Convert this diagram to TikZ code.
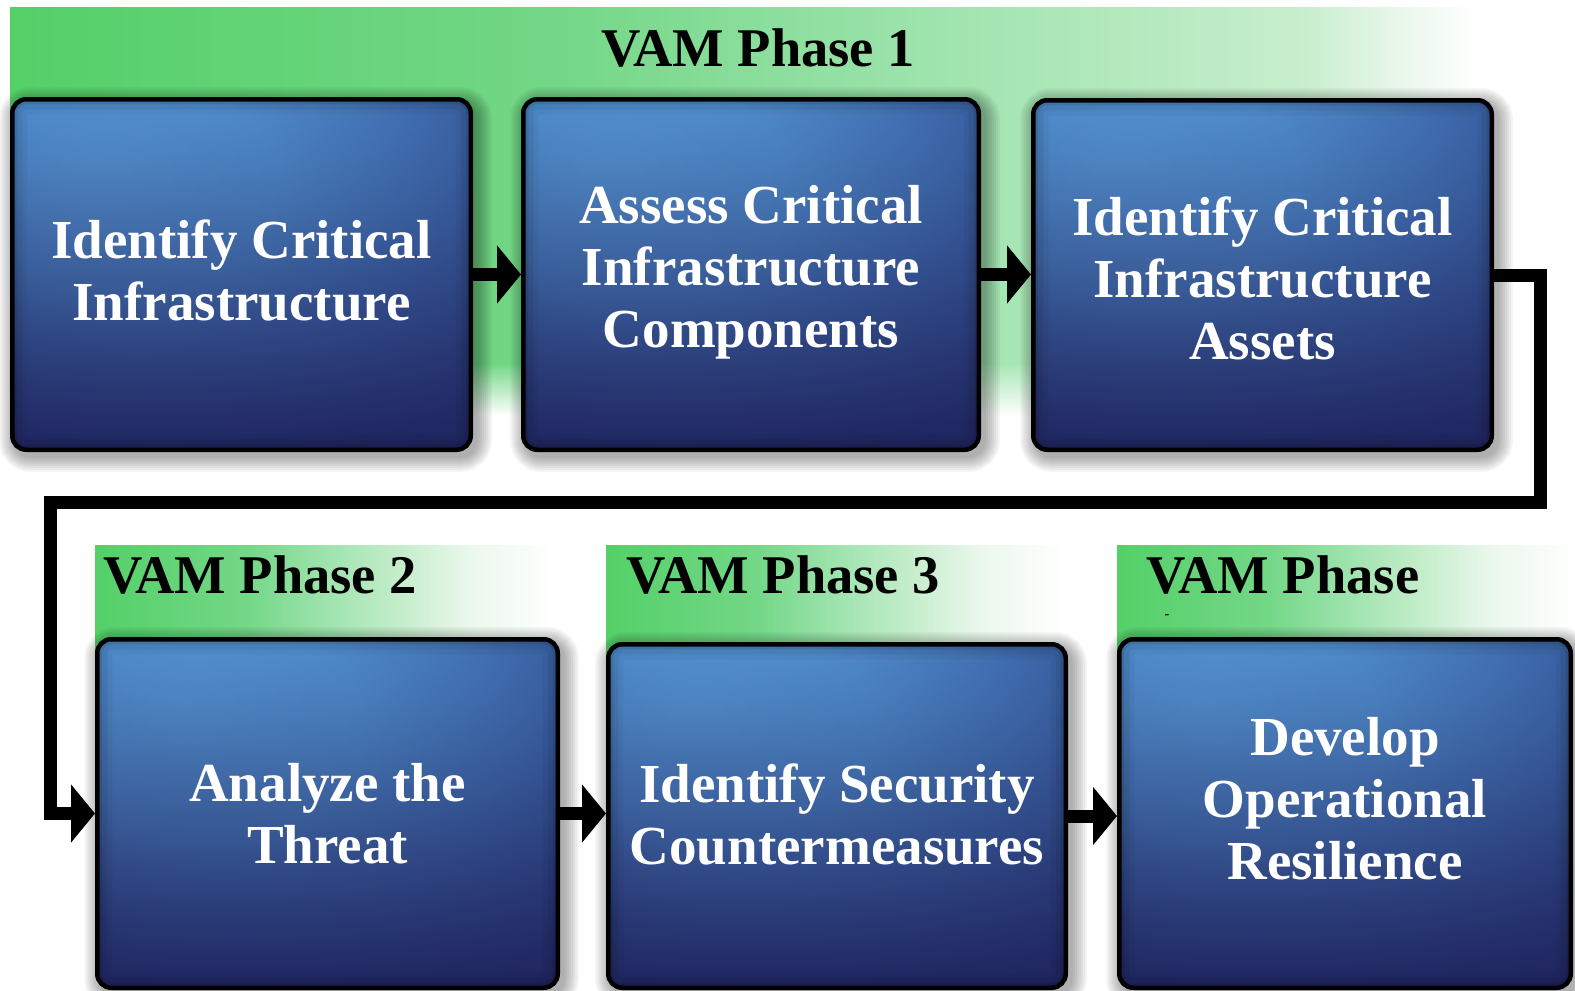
\documentclass[tikz,border=0pt]{standalone}
\usepackage{fontspec}
\setmainfont{Liberation Serif}
\usetikzlibrary{arrows.meta,fadings}

\definecolor{vg}{RGB}{84,208,104}
\definecolor{vga}{RGB}{115,215,135}
\definecolor{vgb}{RGB}{160,228,175}
\definecolor{vgc}{RGB}{200,238,205}
\definecolor{vgd}{RGB}{235,248,237}
\definecolor{bxa}{RGB}{86,150,212}
\definecolor{bxb}{RGB}{80,142,205}
\definecolor{bxc}{RGB}{68,118,184}
\definecolor{bxd}{RGB}{56,92,158}
\definecolor{bxe}{RGB}{46,70,136}
\definecolor{bxf}{RGB}{42,62,126}
\definecolor{navy}{RGB}{28,28,85}

\pgfdeclarehorizontalshading{bandone}{100bp}{color(0bp)=(vg); color(25bp)=(vg); color(43.5bp)=(vga); color(57bp)=(vgb); color(69bp)=(vgc); color(72.5bp)=(vgd); color(75bp)=(white); color(100bp)=(white)}
\pgfdeclarehorizontalshading{bandtwo}{100bp}{color(0bp)=(vg); color(25bp)=(vg); color(41bp)=(vga); color(50bp)=(vgb); color(58bp)=(vgc); color(65bp)=(vgd); color(74bp)=(white); color(100bp)=(white)}
\pgfdeclareradialshading{boxshade}{\pgfpoint{-16bp}{16bp}}{color(0bp)=(bxa); color(16bp)=(bxb); color(28bp)=(bxc); color(39bp)=(bxd); color(52bp)=(bxe); color(70bp)=(bxf)}

\tikzfading[name=fadedown, top color=transparent!0, bottom color=transparent!100]
\tikzfading[name=darkbottom, top color=transparent!100, middle color=transparent!78, bottom color=transparent!15]

\tikzset{
  shadowlayer/.style={preaction={draw=black, draw opacity=0.045, line width=#1, transform canvas={shift={(4pt,-5pt)}}}},
  stepbox/.style={shadowlayer=34pt, shadowlayer=30pt, shadowlayer=26pt, shadowlayer=22pt,
    shadowlayer=18pt, shadowlayer=14pt, shadowlayer=10pt, shadowlayer=6pt,
    draw=black, line width=4.5pt, rounded corners=14pt, shading=boxshade, inner sep=0pt,
    path picture={
      \fill[navy, path fading=darkbottom] (path picture bounding box.south west) rectangle (path picture bounding box.north east);
      \foreach \w/\o in {30pt/0.04,20pt/0.06,10pt/0.09}{\draw[line width=\w, black, opacity=\o, rounded corners=14pt] (path picture bounding box.south west) rectangle (path picture bounding box.north east);}}},
  boxtext/.style={text=white, font=\fontsize{55}{62}\selectfont\bfseries, align=center, inner sep=0pt},
  phasetext/.style={text=black, font=\fontsize{54.5}{60}\selectfont\bfseries, inner sep=0pt},
  conn/.style={line width=13pt, draw=black, line join=miter, -{Triangle[length=24pt, width=57pt]}},
}

\begin{document}
\begin{tikzpicture}[x=1pt, y=-1pt]
\fill[white] (0,0) rectangle (1575,991);
\useasboundingbox (0,0) rectangle (1575,991);

% phase bands
\shade[shading=bandone] (10,7) rectangle (1480,364);
\shade[shading=bandone, path fading=fadedown] (10,362) rectangle (1480,415);
\shade[shading=bandtwo] (95,545) rectangle (565,660);
\shade[shading=bandtwo] (606,545) rectangle (1076,660);
\shade[shading=bandtwo] (1117,545) rectangle (1587,660);

% phase labels
\node[phasetext, anchor=base] (p1) at (758,66) {VAM Phase 1};
\node[phasetext, anchor=base west] (p2) at (103,593) {VAM Phase 2};
\node[phasetext, anchor=base west] (p3) at (626,593) {VAM Phase 3};
\node[phasetext, anchor=base west] (p4) at (1146,593) {VAM Phase};
\node[font=\fontsize{14}{14}\selectfont\bfseries, inner sep=0pt] (p4d) at (1167,617) {-};

% boxes
\node[stepbox, minimum width=458.5pt, minimum height=350.5pt,
  label={[boxtext, name=t1, yshift=4pt]center:{Identify Critical\\Infrastructure}}] (b1) at (241.5,274.5) {};
\node[stepbox, minimum width=455.5pt, minimum height=350.5pt,
  label={[boxtext, name=t2, yshift=2pt]center:{Assess Critical\\Infrastructure\\Components}}] (b2) at (751,274.5) {};
\node[stepbox, minimum width=458.5pt, minimum height=349.5pt,
  label={[boxtext, name=t3, yshift=-3pt]center:{Identify Critical\\Infrastructure\\Assets}}] (b3) at (1262.5,275) {};
\node[stepbox, minimum width=460.5pt, minimum height=348.5pt,
  label={[boxtext, name=t4]center:{Analyze the\\Threat}}] (b4) at (327.5,813.5) {};
\node[stepbox, minimum width=457.5pt, minimum height=343.5pt,
  label={[boxtext, name=t5, yshift=2pt]center:{Identify Security\\Countermeasures}}] (b5) at (837,816) {};
\node[stepbox, minimum width=451.5pt, minimum height=348.5pt,
  label={[boxtext, name=t6, yshift=15pt]center:{Develop\\Operational\\Resilience}}] (b6) at (1345,813.5) {};

% connectors
\coordinate (r1) at (1540,502);
\coordinate (l1) at (50.5,502);
\draw[conn] (b1.east) -- (b1.east -| b2.west);
\draw[conn] (b2.east) -- (b2.east -| b3.west);
\draw[conn] (b3.east) -| (r1) -- (l1) |- (b4.west);
\draw[conn] (b4.east) -- (b4.east -| b5.west);
\draw[conn] (b5.east) -- (b5.east -| b6.west);
\end{tikzpicture}
\end{document}
